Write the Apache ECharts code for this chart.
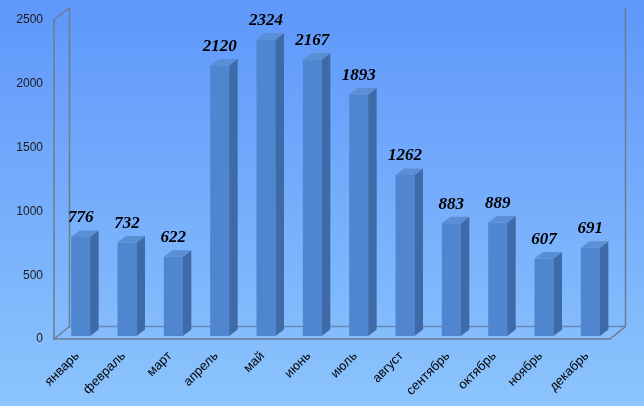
<!DOCTYPE html>
<html>
<head>
<meta charset="utf-8">
<script src="https://cdn.jsdelivr.net/npm/echarts@6/dist/echarts.min.js"></script>
<style>html,body{margin:0;padding:0;}#c{width:644px;height:406px;}</style>
</head>
<body>
<div id="c"></div>
<script>
const months = ['январь','февраль','март','апрель','май','июнь','июль','август','сентябрь','октябрь','ноябрь','декабрь'];
const values = [776,732,622,2120,2324,2167,1893,1262,883,889,607,691];
const yTicks = [0,500,1000,1500,2000,2500];

const chart = echarts.init(document.getElementById('c'));
const WALL = '#6c7b8f';
const DX = 15.5, DY = -12.5;
const option = {
  backgroundColor: {type:'linear', x:0, y:0, x2:0, y2:1,
    colorStops:[{offset:0,color:'#5f97fb'},{offset:1,color:'#8cc4fd'}]},
  animation:false,
  grid:{left:54, right:34, top:20, bottom:67},
  xAxis:{type:'category', data:months,
    axisLine:{lineStyle:{color:WALL,width:1.5}},
    axisTick:{show:false},
    axisLabel:{rotate:45, color:'#000', fontSize:13, fontFamily:'Liberation Sans', margin:15, interval:0}},
  yAxis:{type:'value', min:yTicks[0], max:yTicks[yTicks.length-1], interval:500,
    axisLine:{show:true, lineStyle:{color:WALL,width:1.5}},
    axisTick:{show:false}, splitLine:{show:false},
    axisLabel:{color:'#1a1a1a', fontSize:12, fontFamily:'Liberation Sans', margin:11,
      formatter:function(v){return String(v);}}},
  series:[
    {type:'custom', z:1, data:[[0,0]],
     renderItem:function(params, api){
       const cs = params.coordSys;
       const L=cs.x, R=cs.x+cs.width, T=cs.y, B=cs.y+cs.height;
       const ls = {stroke:WALL, lineWidth:1.5};
       const ln = (x1,y1,x2,y2,st)=>({type:'line', shape:{x1,y1,x2,y2}, style:st||ls});
       return {type:'group', children:[
         ln(L+DX,T+DY,L+DX,B+DY),
         ln(L,T,L+DX,T+DY),
         ln(R+DX,T+DY,R+DX,B+DY),
         ln(L+DX,B+DY,R+DX,B+DY,{stroke:'#6a88b4', lineWidth:1.5}),
         ln(L,B,L+DX,B+DY),
         ln(R,B,R+DX,B+DY)
       ]};
     }},
    {type:'custom', z:2, data:months.map((m,i)=>[i, values[i]]),
     renderItem:function(params, api){
       const base = api.coord([api.value(0), 0]);
       const top = api.coord([api.value(0), api.value(1)]);
       const cx = base[0]+3.5, by = base[1]-3, ty = top[1]-3;
       const w = 19, x0 = cx-w/2, x1 = cx+w/2, dx = 8.5, dy = -6.5;
       return {type:'group', children:[
         {type:'rect', shape:{x:x0, y:ty, width:w, height:by-ty}, style:{fill:'#4f86cf'}},
         {type:'polygon', shape:{points:[[x1,ty],[x1+dx,ty+dy],[x1+dx,by+dy],[x1,by]]}, style:{fill:'#3e6aa7'}},
         {type:'polygon', shape:{points:[[x0,ty],[x0+dx,ty+dy],[x1+dx,ty+dy],[x1,ty]]}, style:{fill:'#5a8fd5'}},
         {type:'text', style:{text:String(api.value(1)), x:cx, y:ty+dy-4, align:'center', verticalAlign:'bottom',
           fill:'#000', font:'italic bold 17px "Liberation Serif"'}}
       ]};
     }}
  ]
};
chart.setOption(option);
</script>
</body>
</html>
